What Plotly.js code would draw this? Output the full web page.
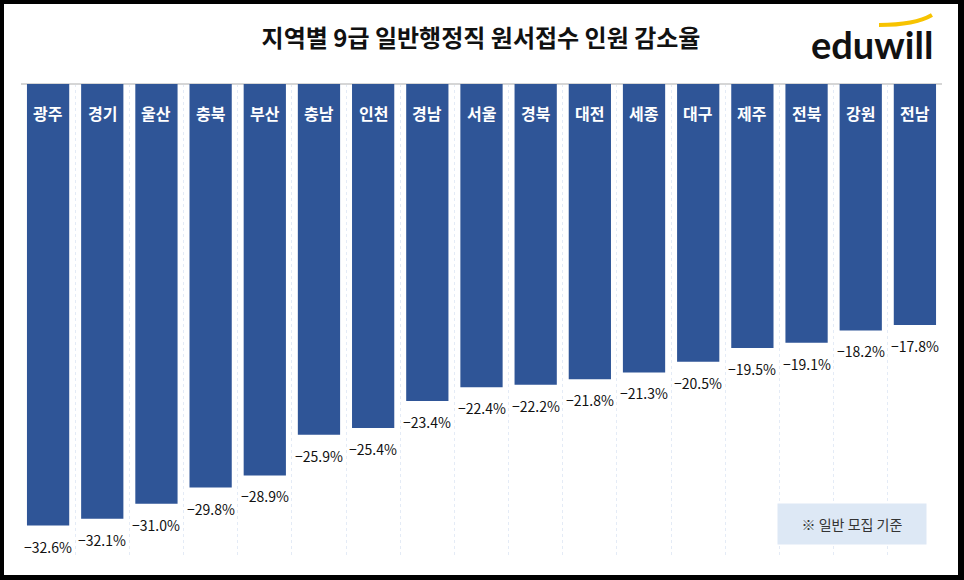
<!DOCTYPE html>
<html>
<head>
<meta charset="utf-8">
<script src="https://cdn.plot.ly/plotly-3.0.1.min.js"></script>
<style>
  html, body { margin: 0; padding: 0; background: #fff; }
  #frame { width: 964px; height: 580px; box-sizing: border-box; border-style: solid; border-color: #000; border-width: 4px 6px 5px 4px; }
</style>
</head>
<body>
<div id="frame"><div id="graph"></div></div>
<script>
// 지역별 감소율 (%)
const regions = ["광주", "경기", "울산", "충북", "부산", "충남", "인천", "경남", "서울", "경북", "대전", "세종", "대구", "제주", "전북", "강원", "전남"];
const rates = [-32.6, -32.1, -31.0, -29.8, -28.9, -25.9, -25.4, -23.4, -22.4, -22.2, -21.8, -21.3, -20.5, -19.5, -19.1, -18.2, -17.8];

const KR = "Noto Sans CJK KR";

const data = [{
    x: regions,
    y: rates,
    type: "bar",
    marker: { color: "#2f5597" },
    hoverinfo: "skip"
}];

// 막대 안쪽 지역명
const nameNotes = regions.map(r => ({
    x: r, y: 0, xref: "x", yref: "y",
    text: "<b>" + r + "</b>",
    showarrow: false, yanchor: "middle", yshift: -29,
    font: { family: KR, size: 16, color: "#ffffff" }
}));

// 막대 아래 수치
const valueNotes = regions.map((r, i) => ({
    x: r, y: rates[i], xref: "x", yref: "y",
    text: "\u2212" + Math.abs(rates[i]).toFixed(1) + "%",
    showarrow: false, yanchor: "middle", yshift: -21,
    font: { family: KR, size: 14, color: "#111111" }
}));

const layout = {
    width: 954,
    height: 571,
    margin: { l: 17, r: 16, t: 80, b: 17 },
    paper_bgcolor: "#ffffff",
    plot_bgcolor: "#ffffff",
    showlegend: false,
    bargap: 0.22,
    title: {
        text: "<b>지역별 9급 일반행정직 원서접수 인원 감소율</b>",
        x: 0.5, xref: "container", xanchor: "center",
        y: 0.94, yref: "container", yanchor: "middle",
        font: { family: KR, size: 24, color: "#111111" }
    },
    xaxis: {
        type: "category",
        showticklabels: false,
        ticks: "",
        tickson: "boundaries",
        showgrid: true,
        griddash: "dot",
        gridcolor: "#e4ebf6",
        gridwidth: 1,
        showline: false,
        zeroline: false
    },
    yaxis: {
        range: [-35, 0],
        showticklabels: false,
        ticks: "",
        showgrid: false,
        zeroline: true,
        zerolinecolor: "#d6d6d6",
        zerolinewidth: 2
    },
    shapes: [{
        // 로고 위 노란 곡선
        type: "path", xref: "paper", yref: "paper",
        path: "M 0.9316 1.1245 Q 0.9707 1.1245 0.9891 1.1456",
        line: { color: "#f7c300", width: 4 }
    }],
    annotations: [
        ...nameNotes,
        ...valueNotes,
        {
            x: 0.924, y: 1.0845, xref: "paper", yref: "paper",
            text: "<b>eduwill</b>", showarrow: false,
            xanchor: "center", yanchor: "middle",
            font: { family: "Lato", size: 38, color: "#111111" }
        },
        {
            x: 0.9023, y: 0.0717, xref: "paper", yref: "paper",
            text: "※ 일반 모집 기준", showarrow: false,
            xanchor: "center", yanchor: "middle",
            width: 140, height: 32,
            bgcolor: "#dde8f5", borderpad: 4,
            font: { family: KR, size: 14, color: "#333333" }
        }
    ]
};

Plotly.newPlot("graph", data, layout, { displayModeBar: false, staticPlot: true });
</script>
</body>
</html>
